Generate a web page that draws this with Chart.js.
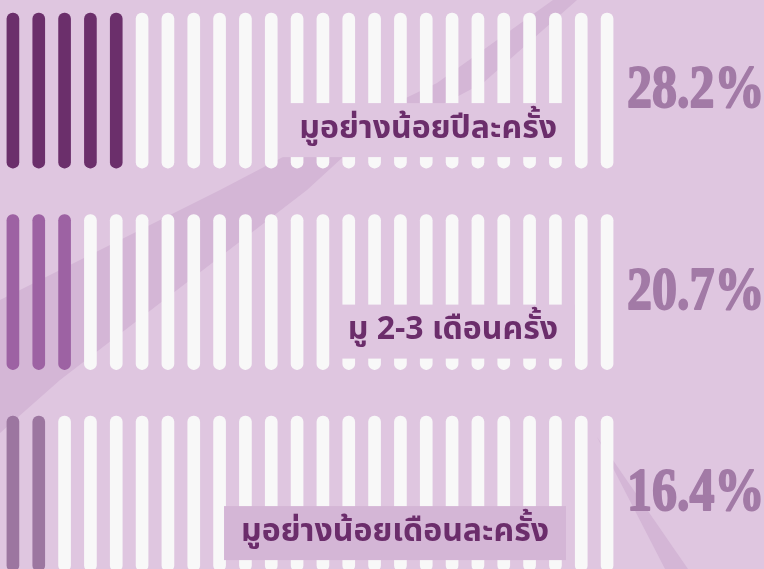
<!DOCTYPE html>
<html lang="th">
<head>
<meta charset="UTF-8">
<title>ความถี่ในการมู</title>
<script src="https://cdn.jsdelivr.net/npm/chart.js"></script>
<style>
  body { margin: 0; background: #dfc6e0; }
  canvas { display: block; }
</style>
</head>
<body>
<canvas id="chart" width="764" height="569"></canvas>
<script>
// data
const categories = ['มูอย่างน้อยปีละครั้ง', 'มู 2-3 เดือนครั้ง', 'มูอย่างน้อยเดือนละครั้ง'];
const percents = [28.2, 20.7, 16.4];
const filledBars = [5, 3, 2];   // coloured sticks per row
const totalBars = 24;
const fillColors = ['#6b2f6b', '#9d62a3', '#9c76a0'];
const emptyColor = '#f8f8f8';
const boxColors = ['#dfc6e0', '#dfc6e0', '#d4b6d6'];
const labelRight = [557, 558, 549];

// row geometry in y units (one unit per row)
const ROW_PX = 201.5;
const BAR_TOP = 0.065, BAR_BOTTOM = 0.834;

const xLabels = Array.from({ length: totalBars }, (_, i) => i + 1);

const datasets = categories.map((cat, r) => ({
  label: cat,
  data: xLabels.map(() => [r + BAR_TOP, r + BAR_BOTTOM]),
  backgroundColor: xLabels.map((_, i) => i < filledBars[r] ? fillColors[r] : emptyColor),
  barThickness: 12,
  borderRadius: 6,
  borderSkipped: false,
  grouped: false
}));

// decorative diagonal bands behind the sticks
const background = {
  id: 'background',
  beforeDraw(chart) {
    const ctx = chart.ctx;
    ctx.save();
    ctx.fillStyle = '#dfc6e0';
    ctx.fillRect(0, 0, chart.width, chart.height);
    ctx.fillStyle = '#d4b6d6';
    ctx.beginPath();
    ctx.moveTo(553, 0);
    ctx.lineTo(577, 0);
    ctx.lineTo(483, 83);
    ctx.lineTo(343, 157);
    ctx.lineTo(307, 190);
    ctx.lineTo(60, 380);
    ctx.lineTo(0, 433);
    ctx.lineTo(0, 300);
    ctx.lineTo(220, 190);
    ctx.lineTo(283, 157);
    ctx.lineTo(437, 83);
    ctx.closePath();
    ctx.fill();
    ctx.beginPath();
    ctx.moveTo(597, 437);
    ctx.lineTo(688, 569);
    ctx.lineTo(665, 569);
    ctx.closePath();
    ctx.fill();
    ctx.restore();
  }
};

const rowText = {
  id: 'rowText',
  afterDatasetsDraw(chart) {
    const ctx = chart.ctx;
    const y = chart.scales.y;
    ctx.save();
    categories.forEach((cat, r) => {
      const top = y.getPixelForValue(r + BAR_TOP);
      ctx.font = '700 32px "Noto Sans Thai", "Noto Sans", sans-serif';
      const w = ctx.measureText(cat).width;
      const right = labelRight[r];
      ctx.fillStyle = boxColors[r];
      ctx.fillRect(right - w - 17, top + 90, w + 34, 54);
      ctx.fillStyle = '#6b2d6b';
      ctx.textAlign = 'right';
      ctx.textBaseline = 'middle';
      ctx.fillText(cat, right, top + 118);

      ctx.save();
      ctx.translate(627, top + 94);
      ctx.scale(1, 1.22);
      ctx.font = '700 50px "Liberation Serif", "DejaVu Serif", serif';
      ctx.fillStyle = '#a27aa6';
      ctx.strokeStyle = '#a27aa6';
      ctx.lineWidth = 1.6;
      ctx.lineJoin = 'round';
      ctx.textAlign = 'left';
      ctx.textBaseline = 'alphabetic';
      const txt = percents[r].toFixed(1) + '%';
      ctx.fillText(txt, 0, 0);
      ctx.strokeText(txt, 0, 0);
      ctx.restore();
    });
    ctx.restore();
  }
};

new Chart(document.getElementById('chart'), {
  type: 'bar',
  data: { labels: xLabels, datasets },
  options: {
    responsive: false,
    animation: false,
    layout: { padding: { left: 0, right: 144, top: 0, bottom: 0 } },
    plugins: { legend: { display: false }, tooltip: { enabled: false } },
    scales: {
      x: { display: false, offset: true },
      y: { display: false, reverse: true, min: 0, max: 569 / ROW_PX }
    }
  },
  plugins: [background, rowText]
});
</script>
</body>
</html>
